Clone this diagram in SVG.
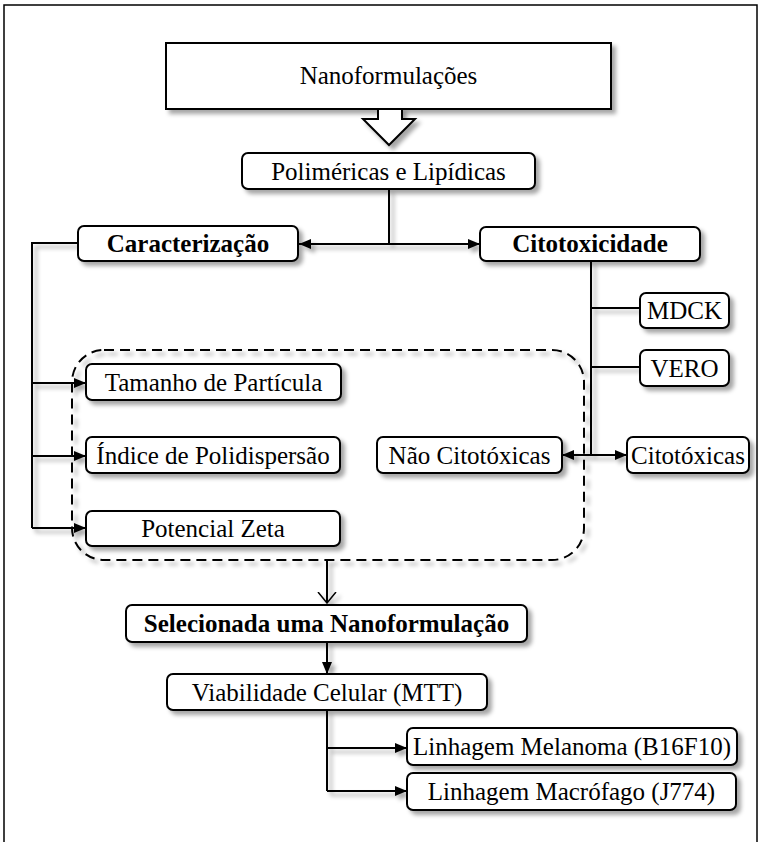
<svg xmlns="http://www.w3.org/2000/svg" width="762" height="842" viewBox="0 0 762 842">
  <defs>
    <filter id="shadow" x="-10%" y="-20%" width="130%" height="160%">
      <feDropShadow dx="4" dy="4" stdDeviation="2.2" flood-color="#000" flood-opacity="0.35"/>
    </filter>
    <marker id="arrow" viewBox="0 0 12 10" refX="12" refY="5" markerWidth="12" markerHeight="10" markerUnits="userSpaceOnUse" orient="auto">
      <path d="M0,0 L12,5 L0,10 Z" fill="#000"/>
    </marker>
    <marker id="open" viewBox="0 0 12 20" refX="11" refY="10" markerWidth="12" markerHeight="20" markerUnits="userSpaceOnUse" orient="auto">
      <path d="M0,1 L11,10 L0,19" fill="none" stroke="#000" stroke-width="1.5"/>
    </marker>
  </defs>
  <style>
    .box { fill: #fff; stroke: #000; stroke-width: 2; filter: url(#shadow); }
    .lbl { font-family: "Liberation Serif", "Times New Roman", serif; font-size: 25px; fill: #000; text-anchor: middle; }
    .b { font-weight: bold; }
    .ln { fill: none; stroke: #000; stroke-width: 2; }
    .sh { filter: url(#shadow); }
  </style>

  <rect x="0" y="0" width="762" height="842" fill="#fff"/>
  <!-- page frame -->
  <rect x="4" y="5" width="753" height="850" fill="none" stroke="#000" stroke-width="1.5"/>

  <!-- connectors -->
  <g id="connectors" class="sh">
    <path class="ln" d="M389,189 V244"/>
    <path class="ln" d="M389,244 H299" marker-end="url(#arrow)"/>
    <path class="ln" d="M389,244 H480" marker-end="url(#arrow)"/>
    <path class="ln" d="M78,243 H32 V528"/>
    <path class="ln" d="M32,383 H86" marker-end="url(#arrow)"/>
    <path class="ln" d="M32,456 H86" marker-end="url(#arrow)"/>
    <path class="ln" d="M32,528 H86" marker-end="url(#arrow)"/>
    <path class="ln" d="M591,261 V455"/>
    <path class="ln" d="M591,308 H640"/>
    <path class="ln" d="M591,367 H640"/>
    <path class="ln" d="M591,455 H562" marker-end="url(#arrow)"/>
    <path class="ln" d="M591,455 H627" marker-end="url(#arrow)"/>
    <path class="ln" d="M327,560 V603" stroke-width="1.5" marker-end="url(#open)"/>
    <path class="ln" d="M327,642 V674" marker-end="url(#arrow)"/>
    <path class="ln" d="M327,710 V791"/>
    <path class="ln" d="M327,748 H407" marker-end="url(#arrow)"/>
    <path class="ln" d="M327,791 H407" marker-end="url(#arrow)"/>
  </g>

  <!-- dashed grouping frame -->
  <g id="group-frame">
    <rect x="72" y="350" width="512" height="210" rx="32" fill="none" stroke="#000" stroke-width="2" stroke-dasharray="10,6" class="sh"/>
  </g>

  <g id="n-nano">
    <rect x="166" y="43" width="445" height="66" fill="#fff" stroke="#000" stroke-width="2" filter="url(#shadow)"/>
    <text class="lbl" x="388.5" y="84">Nanoformulações</text>
  </g>
  <g id="n-block-arrow">
    <polygon points="378,109 378,119 363,119 389,145 415,119 402,119 402,109" fill="#fff" stroke="#000" stroke-width="2" filter="url(#shadow)"/>
  </g>
  <g id="n-polim">
    <rect class="box" x="242" y="153" width="293" height="36" rx="6"/>
    <text class="lbl" x="388.5" y="180">Poliméricas e Lipídicas</text>
  </g>
  <g id="n-caract">
    <rect class="box" x="78" y="226" width="220" height="35" rx="6"/>
    <text class="lbl b" x="188" y="252">Caracterização</text>
  </g>
  <g id="n-citotox">
    <rect class="box" x="480" y="227" width="220" height="34" rx="6"/>
    <text class="lbl b" x="590" y="252">Citotoxicidade</text>
  </g>
  <g id="n-mdck">
    <rect class="box" x="640" y="293" width="89" height="35" rx="6"/>
    <text class="lbl" x="684.5" y="319">MDCK</text>
  </g>
  <g id="n-vero">
    <rect class="box" x="640" y="350" width="89" height="36" rx="6"/>
    <text class="lbl" x="684.5" y="377">VERO</text>
  </g>
  <g id="n-tamanho">
    <rect class="box" x="86" y="364" width="255" height="36" rx="6"/>
    <text class="lbl" x="213.5" y="391">Tamanho de Partícula</text>
  </g>
  <g id="n-indice">
    <rect class="box" x="86" y="437" width="254" height="36" rx="6"/>
    <text class="lbl" x="213" y="464">Índice de Polidispersão</text>
  </g>
  <g id="n-zeta">
    <rect class="box" x="86" y="511" width="254" height="35" rx="6"/>
    <text class="lbl" x="213" y="537">Potencial Zeta</text>
  </g>
  <g id="n-nao-citotox">
    <rect class="box" x="377" y="437" width="185" height="36" rx="6"/>
    <text class="lbl" x="469.5" y="464">Não Citotóxicas</text>
  </g>
  <g id="n-citotoxicas">
    <rect class="box" x="627" y="437" width="122" height="36" rx="6"/>
    <text class="lbl" x="688" y="464">Citotóxicas</text>
  </g>
  <g id="n-selecionada">
    <rect class="box" x="126" y="605" width="401" height="37" rx="6"/>
    <text class="lbl b" x="326.5" y="632">Selecionada uma Nanoformulação</text>
  </g>
  <g id="n-viabilidade">
    <rect class="box" x="167" y="674" width="320" height="36" rx="6"/>
    <text class="lbl" x="327" y="701">Viabilidade Celular (MTT)</text>
  </g>
  <g id="n-melanoma">
    <rect class="box" x="407" y="728" width="330" height="37" rx="6"/>
    <text class="lbl" x="572" y="755">Linhagem Melanoma (B16F10)</text>
  </g>
  <g id="n-macrofago">
    <rect class="box" x="407" y="773" width="329" height="37" rx="6"/>
    <text class="lbl" x="571.5" y="800">Linhagem Macrófago (J774)</text>
  </g>
</svg>
